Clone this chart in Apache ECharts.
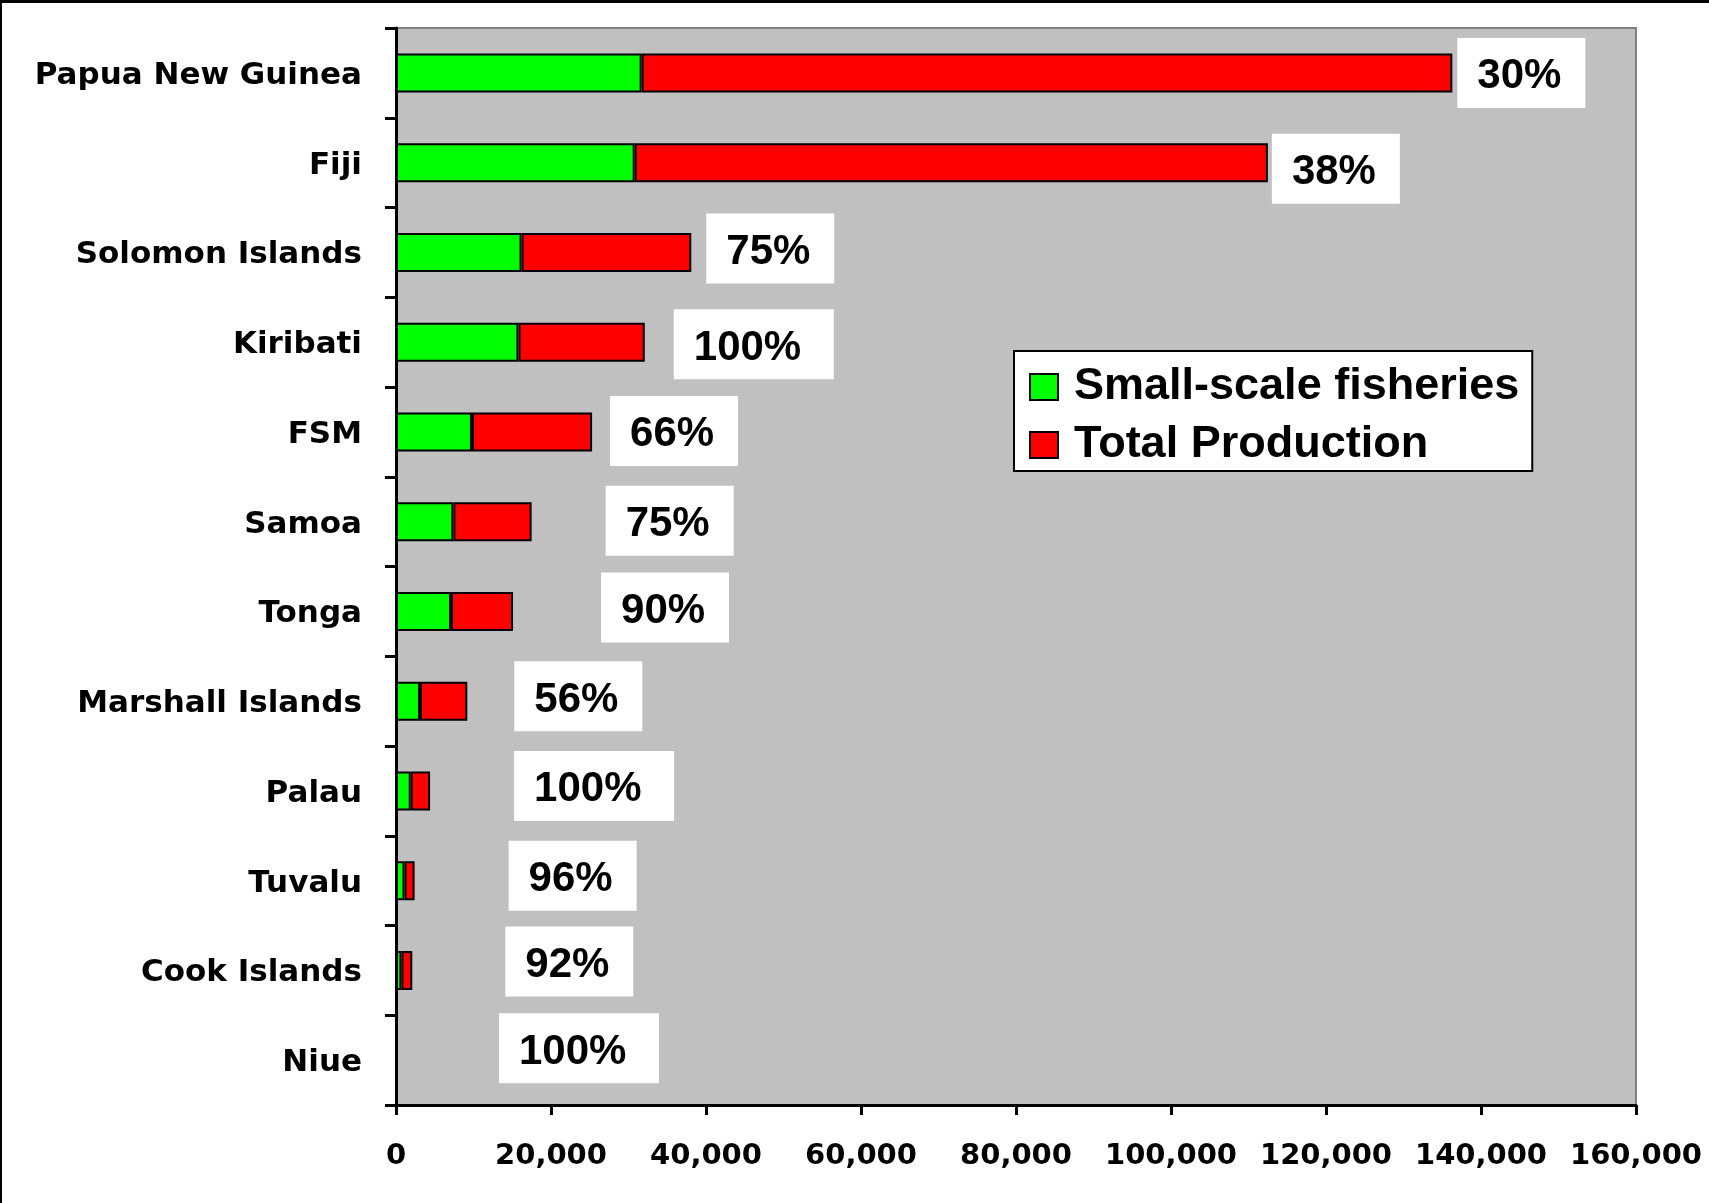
<!DOCTYPE html>
<html>
<head>
<meta charset="utf-8">
<script src="https://cdn.jsdelivr.net/npm/echarts@6/dist/echarts.min.js"></script>
<style>
  html, body { margin: 0; padding: 0; background: #fff; }
  #chart { width: 1709px; height: 1203px; }
</style>
</head>
<body>
<div id="chart"></div>
<script>
// ---- data ----
const categories = ['Papua New Guinea', 'Fiji', 'Solomon Islands', 'Kiribati', 'FSM', 'Samoa',
  'Tonga', 'Marshall Islands', 'Palau', 'Tuvalu', 'Cook Islands', 'Niue'];
// green segment (small-scale fisheries)
const smallScale = [31700, 30800, 16200, 15800, 9800, 7400, 7100, 3100, 1900, 1100, 700, 0];
// red segment (rest of total production, stacked after the green one)
const totalProduction = [104600, 81700, 21900, 16300, 15500, 10100, 8000, 6100, 2500, 1300, 1400, 0];
// share labels in white boxes
const shareLabels = ['30%', '38%', '75%', '100%', '66%', '75%', '90%', '56%', '100%', '96%', '92%', '100%'];
// x axis ticks
const xMin = 0, xMax = 160000, xStep = 20000;

// ---- label placement (layout only) ----
const labelGap = [5, 4, 15, 29, 18, 74, 88, 47, 84, 94, 93, 102];
const labelShift = [0, 6, -4, 2, -1, -1, -4, -5, -5, -5, -9, -12];
const boxHalf = 35; // half of the white box height

const chart = echarts.init(document.getElementById('chart'), null, { renderer: 'canvas' });

const redData = totalProduction.map((v, i) => ({
  value: v,
  label: {
    show: true,
    position: 'right',
    distance: labelGap[i],
    offset: [0, labelShift[i] - boxHalf],
    formatter: shareLabels[i],
    width: shareLabels[i].length > 3 ? 116 : 84,
    align: 'left',
    verticalAlign: 'top'
  }
}));

const option = {
  backgroundColor: '#ffffff',
  animation: false,
  grid: {
    left: 396, right: 73, top: 28, bottom: 98,
    show: true,
    backgroundColor: '#C0C0C0',
    borderColor: '#808080',
    borderWidth: 2
  },
  legend: {
    orient: 'vertical',
    left: 1014,
    top: 351,
    backgroundColor: '#ffffff',
    borderColor: '#000000',
    borderWidth: 2,
    borderRadius: 0,
    padding: [11, 13, 1, 15],
    itemWidth: 28,
    itemHeight: 26,
    itemGap: 8,
    icon: 'rect',
    textStyle: {
      fontFamily: 'Liberation Sans, Arial, sans-serif',
      fontWeight: 'bold',
      fontSize: 45,
      lineHeight: 46,
      color: '#000',
      padding: [4, 0, 0, 11]
    },
    data: ['Small-scale fisheries', 'Total Production']
  },
  xAxis: {
    type: 'value',
    min: xMin,
    max: xMax,
    interval: xStep,
    axisLine: { show: true, lineStyle: { color: '#000', width: 3 } },
    axisTick: { show: true, length: 10, lineStyle: { color: '#000', width: 3 } },
    splitLine: { show: false },
    axisLabel: {
      margin: 37,
      color: '#000',
      fontFamily: 'DejaVu Sans, sans-serif',
      fontWeight: 'bold',
      fontSize: 29,
      formatter: v => v.toLocaleString('en-US')
    }
  },
  yAxis: {
    type: 'category',
    data: categories,
    inverse: true,
    axisLine: { show: true, lineStyle: { color: '#000', width: 3 } },
    axisTick: { show: true, length: 11, lineStyle: { color: '#000', width: 3 } },
    splitLine: { show: false },
    axisLabel: {
      margin: 34,
      color: '#000',
      fontFamily: 'DejaVu Sans, sans-serif',
      fontWeight: 'bold',
      fontSize: 31,
      verticalAlign: 'top',
      lineHeight: 6
    }
  },
  series: [
    {
      name: 'Small-scale fisheries',
      type: 'bar',
      stack: 'prod',
      barWidth: 39,
      data: smallScale,
      itemStyle: { color: '#00FF00', borderColor: '#000', borderWidth: 2 }
    },
    {
      name: 'Total Production',
      type: 'bar',
      stack: 'prod',
      barWidth: 39,
      data: redData,
      itemStyle: { color: '#FF0000', borderColor: '#000', borderWidth: 2 },
      label: {
        show: true,
        color: '#000',
        fontFamily: 'Liberation Sans, Arial, sans-serif',
        fontWeight: 'bold',
        fontSize: 42,
        lineHeight: 42,
        backgroundColor: '#ffffff',
        padding: [18, 24, 10, 20]
      }
    }
  ],
  graphic: [
    { type: 'line', shape: { x1: 0, y1: 1.5, x2: 1709, y2: 1.5 }, style: { stroke: '#000', lineWidth: 3 }, silent: true },
    { type: 'line', shape: { x1: 1, y1: 0, x2: 1, y2: 1203 }, style: { stroke: '#000', lineWidth: 2 }, silent: true }
  ]
};

chart.setOption(option);
</script>
</body>
</html>
